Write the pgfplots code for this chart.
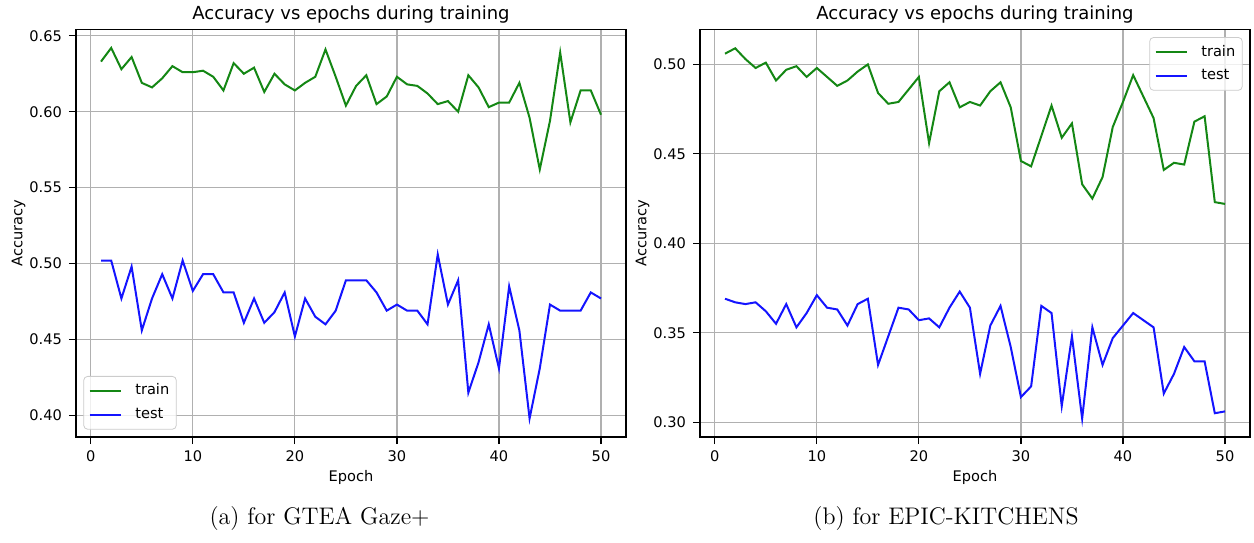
\documentclass[border=0pt]{standalone}
\usepackage{fontspec}
\usepackage{pgfplots}
\usepackage{pgfplotstable}
\pgfplotsset{compat=1.18}
\newfontfamily\dejavu{DejaVu Sans}
\definecolor{mgreen}{RGB}{20,135,20}
\definecolor{mblue}{RGB}{20,20,255}
\definecolor{gridgray}{RGB}{176,176,176}
\newcommand\tickfont{\dejavu\fontsize{7.3}{8.8}\selectfont}

\pgfplotstableread{
epoch train test
1 0.633 0.502
2 0.642 0.502
3 0.628 0.477
4 0.636 0.498
5 0.619 0.456
6 0.616 0.477
7 0.622 0.493
8 0.630 0.477
9 0.626 0.502
10 0.626 0.482
11 0.627 0.493
12 0.623 0.493
13 0.614 0.481
14 0.632 0.481
15 0.625 0.461
16 0.629 0.477
17 0.613 0.461
18 0.625 0.468
19 0.618 0.481
20 0.614 0.452
21 0.619 0.477
22 0.623 0.465
23 0.641 0.460
24 0.623 0.469
25 0.604 0.489
26 0.617 0.489
27 0.624 0.489
28 0.605 0.481
29 0.610 0.469
30 0.623 0.473
31 0.618 0.469
32 0.617 0.469
33 0.612 0.460
34 0.605 0.506
35 0.607 0.473
36 0.600 0.489
37 0.624 0.415
38 0.616 0.435
39 0.603 0.460
40 0.606 0.431
41 0.606 0.485
42 0.619 0.456
43 0.596 0.398
44 0.562 0.431
45 0.594 0.473
46 0.639 0.469
47 0.593 0.469
48 0.614 0.469
49 0.614 0.481
50 0.598 0.477
}\gtea

\pgfplotstableread{
epoch train test
1 0.506 0.369
2 0.509 0.367
3 0.503 0.366
4 0.498 0.367
5 0.501 0.362
6 0.491 0.355
7 0.497 0.366
8 0.499 0.353
9 0.493 0.361
10 0.498 0.371
11 0.493 0.364
12 0.488 0.363
13 0.491 0.354
14 0.496 0.366
15 0.500 0.369
16 0.484 0.332
17 0.478 0.348
18 0.479 0.364
19 0.486 0.363
20 0.493 0.357
21 0.456 0.358
22 0.485 0.353
23 0.490 0.364
24 0.476 0.373
25 0.479 0.364
26 0.477 0.327
27 0.485 0.354
28 0.490 0.365
29 0.476 0.342
30 0.446 0.314
31 0.443 0.320
32 0.460 0.365
33 0.477 0.361
34 0.459 0.309
35 0.467 0.348
36 0.433 0.302
37 0.425 0.353
38 0.437 0.332
39 0.465 0.347
40 0.479 0.354
41 0.494 0.361
42 0.482 0.357
43 0.470 0.353
44 0.441 0.316
45 0.445 0.327
46 0.444 0.342
47 0.468 0.334
48 0.471 0.334
49 0.423 0.305
50 0.422 0.306
}\epic

\pgfplotsset{myax/.style={
  scale only axis, width=275pt, height=203.65pt,
  xmin=-1.45, xmax=52.45,
  xtick={0,10,20,30,40,50},
  grid=major, major grid style={gridgray, line width=0.6pt},
  axis line style={line width=0.6pt},
  tick align=outside, tick pos=left, major tick length=3.5pt,
  every tick/.style={black, line width=0.6pt},
  /pgf/number format/assume math mode=true,
  tick label style={font=\tickfont},
  scaled y ticks=false,
  yticklabel style={/pgf/number format/fixed, /pgf/number format/fixed zerofill, /pgf/number format/precision=2},
  title={Accuracy vs epochs during training},
  title style={font=\dejavu\fontsize{9}{11}\selectfont, at={(axis description cs:0.5,1)}, anchor=base, yshift=-1.15pt},
  xlabel={Epoch}, ylabel={Accuracy},
  xlabel style={font=\tickfont, at={(axis description cs:0.5,-0.109)}, anchor=base},
  ylabel style={font=\tickfont, at={(axis description cs:-0.0973,0.5)}, anchor=base, rotate=0},
  legend image code/.code={\draw[#1] (0pt,0pt) -- (15.8pt,0pt);},
  legend cell align=left,
  legend style={font=\tickfont, draw=black!20, rounded corners=2pt, fill=white, fill opacity=0.8, text opacity=1,
    inner xsep=2.5pt, inner ysep=2.8pt, row sep=2.85pt, column sep=5.5pt,
    nodes={inner sep=1pt, text height=5.5pt, text depth=1.5pt}},
}}

\begin{document}
\begin{tikzpicture}
\useasboundingbox (0,0) rectangle (627pt,271pt);
\begin{axis}[myax, at={(38pt,52.5pt)}, anchor=south west,
  ymin=0.3858, ymax=0.654, ytick={0.40,0.45,0.50,0.55,0.60,0.65},
  legend style={at={(axis description cs:0.0133,0.018)}, anchor=south west}]
\addplot[mgreen, line width=1pt] table[x=epoch, y=train] {\gtea};
\addlegendentry{train}
\addplot[mblue, line width=1pt] table[x=epoch, y=test] {\gtea};
\addlegendentry{test}
\end{axis}
\begin{axis}[myax, at={(350pt,52.5pt)}, anchor=south west,
  ymin=0.2917, ymax=0.5194, ytick={0.30,0.35,0.40,0.45,0.50},
  legend style={at={(axis description cs:0.9867,0.982)}, anchor=north east}]
\addplot[mgreen, line width=1pt] table[x=epoch, y=train] {\epic};
\addlegendentry{train}
\addplot[mblue, line width=1pt] table[x=epoch, y=test] {\epic};
\addlegendentry{test}
\end{axis}
\node[anchor=base] at (159.75pt,8.85pt) {\fontsize{12}{14}\selectfont (a) for GTEA Gaze+};
\node[anchor=base] at (473pt,8.85pt) {\fontsize{12}{14}\selectfont (b) for EPIC-KITCHENS};
\end{tikzpicture}
\end{document}
